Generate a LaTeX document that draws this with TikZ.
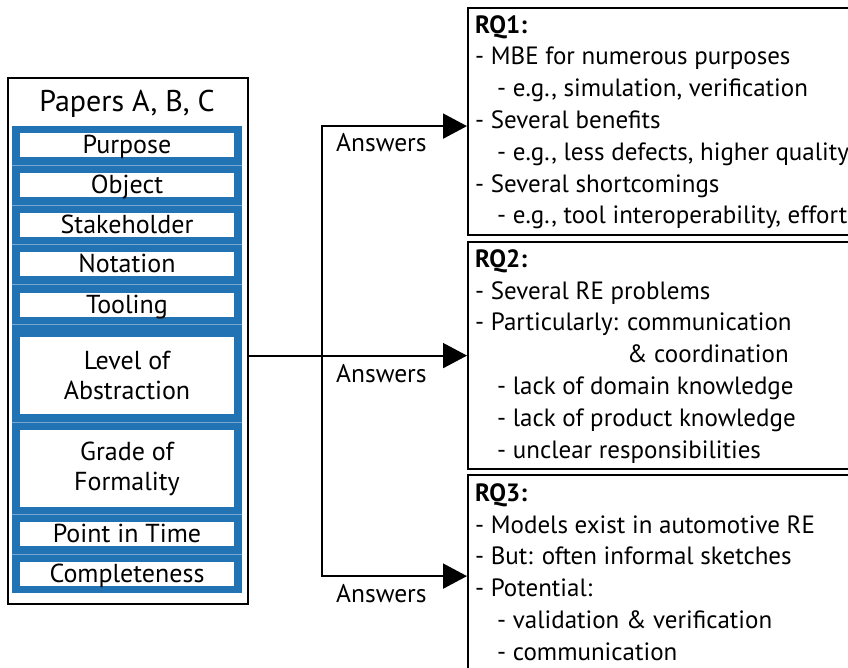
\documentclass[tikz,border=0pt]{standalone}
\usepackage{fontspec}
\setmainfont{PT Sans}
\usetikzlibrary{arrows.meta}
\definecolor{pblue}{RGB}{33,115,180}
\definecolor{psep}{RGB}{120,165,210}
\begin{document}
\begin{tikzpicture}[x=1pt,y=-1pt,
  frame/.style={draw=black, line width=2.2pt, inner sep=0pt, anchor=north west},
  conn/.style={line width=2pt, -{Triangle[length=24pt,width=25pt]}},
  item/.style={fill=white, inner sep=0pt, minimum width=214pt, anchor=north,
    font=\fontsize{26}{30}\selectfont, align=center},
  oneline/.style={text height=20pt, text depth=4pt},
  lbl/.style={font=\fontsize{25.5}{30}\selectfont, anchor=base west, inner sep=0pt},
  rqtext/.style={font=\fontsize{25}{31.8}\selectfont, align=left, anchor=north west, inner sep=0pt},
]
\clip (0,0) rectangle (848,668);
\fill[white] (0,0) rectangle (848,668);

% left: papers box
\node[frame, minimum width=240pt, minimum height=526pt] (papers) at (7,77) {};
\node[font=\fontsize{30}{34}\selectfont, anchor=base, inner sep=0pt] (title) at (127,112) {Papers A, B, C};
\node[fill=pblue, inner sep=0pt, anchor=north west, minimum width=230pt, minimum height=467pt] (panel) at (12,126) {};
\foreach \y in {165,205,244,284,324,422,514,554}
  \draw[psep, line width=0.8pt] (12,\y) -- (242,\y);

\node[item, oneline, minimum height=24pt] (f1) at (127,133) {Purpose};
\node[item, oneline, minimum height=24pt] (f2) at (127,173) {Object};
\node[item, oneline, minimum height=24pt] (f3) at (127,213) {Stakeholder};
\node[item, oneline, minimum height=24pt] (f4) at (127,252) {Notation};
\node[item, oneline, minimum height=24pt] (f5) at (127,293) {Tooling};
\node[item, minimum height=77pt] (f6) at (127,337) {Level of\\Abstraction};
\node[item, minimum height=77pt] (f7) at (127,430) {Grade of\\Formality};
\node[item, oneline, minimum height=24pt] (f8) at (127,522) {Point in Time};
\node[item, oneline, minimum height=24pt] (f9) at (127,562) {Completeness};

% right: RQ boxes
\node[frame, minimum width=450pt, minimum height=227pt] (rq1) at (467,7) {};
\node[frame, minimum width=450pt, minimum height=227pt] (rq2) at (467,241) {};
\node[frame, minimum width=450pt, minimum height=202pt] (rq3) at (467,474) {};

\node[rqtext] (rq1t) at (475,10.74) {\strut\textbf{RQ1:}\\
- MBE for numerous purposes\\
\hspace*{22pt}- e.g., simulation, verification\\
- Several benefits\\
\hspace*{22pt}- e.g., less defects, higher quality\\
- Several shortcomings\\
\hspace*{22pt}- e.g., tool interoperability, effort};

\node[rqtext] (rq2t) at (475,244.74) {\strut\textbf{RQ2:}\\
- Several RE problems\\
- Particularly: communication\\
\hspace*{152pt}\& coordination\\
\hspace*{22pt}- lack of domain knowledge\\
\hspace*{22pt}- lack of product knowledge\\
\hspace*{22pt}- unclear responsibilities};

\node[rqtext] (rq3t) at (475,478.74) {\strut\textbf{RQ3:}\\
- Models exist in automotive RE\\
- But: often informal sketches\\
- Potential:\\
\hspace*{22pt}- validation \& verification\\
\hspace*{22pt}- communication};

% connectors
\coordinate (split) at (322,354.5);
\draw[conn] (papers.east |- rq2.west) -- (rq2.west);
\draw[conn] (split) |- ([yshift=-4.5pt]rq1.west);
\draw[conn] (split) |- (rq3.west);

\node[lbl] (ans1) at (336,152) {Answers};
\node[lbl] (ans2) at (336,382) {Answers};
\node[lbl] (ans3) at (336,602) {Answers};
\end{tikzpicture}
\end{document}
